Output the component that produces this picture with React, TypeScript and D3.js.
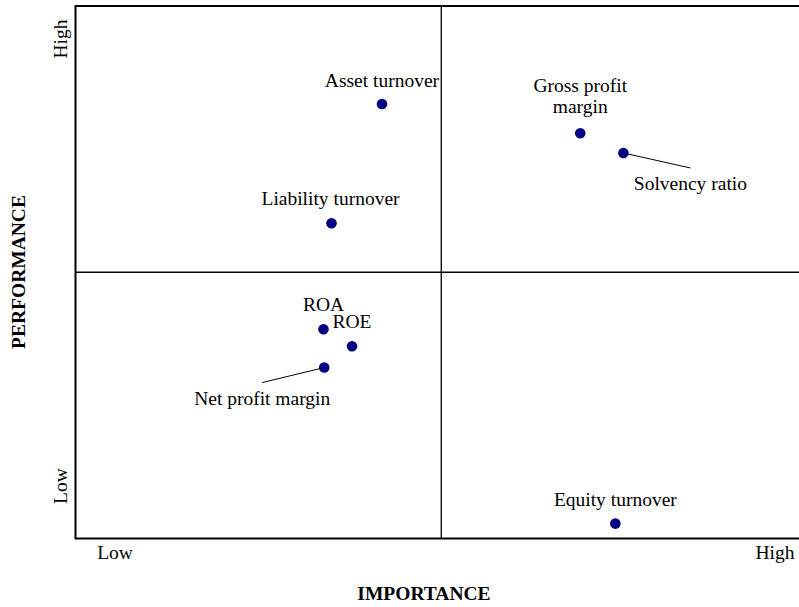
import React from "react";
import * as d3 from "d3";

// Data
const names = [
  "Asset turnover",
  "Gross profit margin",
  "Solvency ratio",
  "Liability turnover",
  "ROA",
  "ROE",
  "Net profit margin",
  "Equity turnover",
];
const importance = [41.9, 69.0, 74.9, 35.0, 33.9, 37.8, 34.0, 73.8];
const performance = [81.6, 76.1, 72.4, 59.2, 39.3, 36.1, 32.1, 2.8];
const xTickLabels = ["Low", "High"];
const yTickLabels = ["Low", "High"];

// Label layout (offsets from the point, in px)
const labelLines: string[][] = [
  ["Asset turnover"],
  ["Gross profit", "margin"],
  ["Solvency ratio"],
  ["Liability turnover"],
  ["ROA"],
  ["ROE"],
  ["Net profit margin"],
  ["Equity turnover"],
];
const labelDx = [0, 0, 67, -1, 0, 0, -62, 0];
const labelDy = [-17, -41, 37, -18, -18, -18, 37, -18];
const leader = [null, null, [67, 15], null, null, null, [-62, 15], null];

const W = 799;
const H = 607;
const left = 75.5;
const right = 807;
const top = 6;
const bottom = 538.5;
const FONT = "'Liberation Serif', 'Times New Roman', serif";

export default function App() {
  const x = d3.scaleLinear().domain([0, 100]).range([left, right]);
  const y = d3.scaleLinear().domain([0, 100]).range([bottom, top]);
  const fs = 19.5;

  return (
    <svg
      width={W}
      height={H}
      style={{ position: "absolute", left: 0, top: 0, background: "#fff" }}
      fontFamily={FONT}
    >
      {/* quadrant lines */}
      <line x1={x(50)} x2={x(50)} y1={top} y2={bottom} stroke="#000" strokeWidth={1.3} />
      <line x1={left} x2={right} y1={y(50)} y2={y(50)} stroke="#000" strokeWidth={1.3} />
      {/* frame */}
      <rect x={left} y={top} width={right - left} height={bottom - top} fill="none" stroke="#000" strokeWidth={2} />

      {/* leader lines */}
      {names.map((n, i) => {
        const l = leader[i] as number[] | null;
        if (!l) return null;
        const px = x(importance[i]);
        const py = y(performance[i]);
        return <line key={"l" + n} x1={px} y1={py} x2={px + l[0]} y2={py + l[1]} stroke="#000" strokeWidth={1} />;
      })}

      {/* points */}
      {names.map((n, i) => (
        <circle key={"c" + n} cx={x(importance[i])} cy={y(performance[i])} r={5.3} fill="#000080" />
      ))}

      {/* labels */}
      {names.map((n, i) => (
        <text
          key={"t" + n}
          x={x(importance[i]) + labelDx[i]}
          y={y(performance[i]) + labelDy[i]}
          textAnchor="middle"
          fontSize={fs}
          fill="#000"
        >
          {labelLines[i].map((ln, j) => (
            <tspan key={j} x={x(importance[i]) + labelDx[i]} dy={j === 0 ? 0 : 21}>
              {ln}
            </tspan>
          ))}
        </text>
      ))}

      {/* x axis tick labels */}
      <text x={115} y={559} textAnchor="middle" fontSize={fs}>{xTickLabels[0]}</text>
      <text x={775} y={559} textAnchor="middle" fontSize={fs}>{xTickLabels[1]}</text>
      {/* y axis tick labels */}
      <text transform={`translate(67,486) rotate(-90)`} textAnchor="middle" fontSize={fs}>{yTickLabels[0]}</text>
      <text transform={`translate(67,39) rotate(-90)`} textAnchor="middle" fontSize={fs}>{yTickLabels[1]}</text>

      {/* axis titles */}
      <text x={424} y={600} textAnchor="middle" fontSize={fs} fontWeight="bold">IMPORTANCE</text>
      <text transform={`translate(25,272) rotate(-90)`} textAnchor="middle" fontSize={fs} fontWeight="bold">PERFORMANCE</text>
    </svg>
  );
}
